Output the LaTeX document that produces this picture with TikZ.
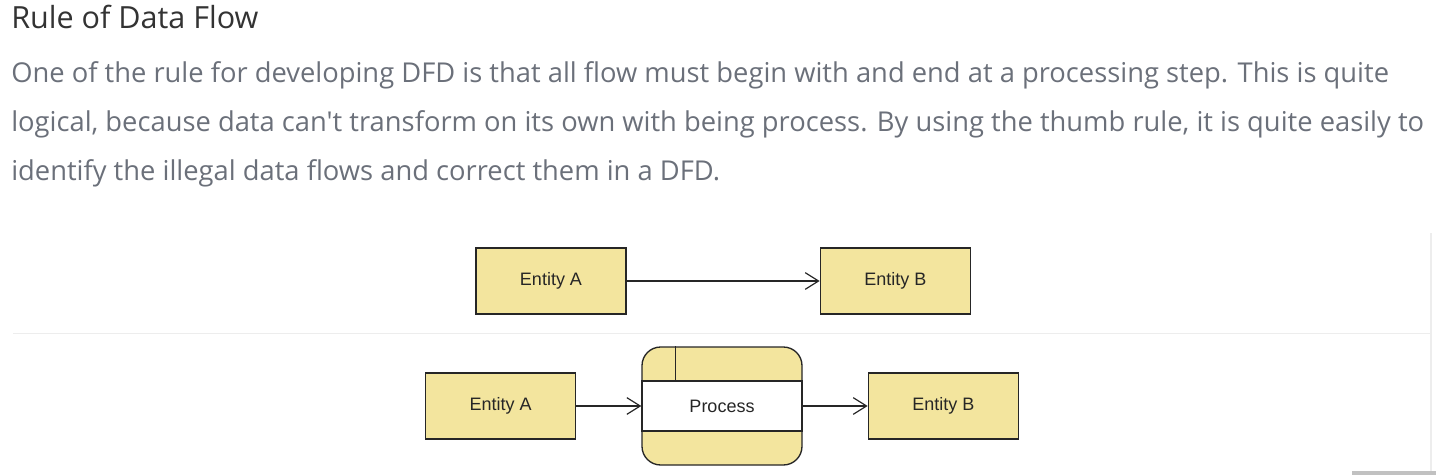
\documentclass[tikz,border=0pt]{standalone}
\usepackage{fontspec}
\setmainfont{Open Sans}
\newfontfamily\pagefont{Open Sans}
\newfontfamily\boxfont{Liberation Sans}
\usepackage{xcolor}
\usetikzlibrary{arrows.meta,positioning}
\definecolor{dfdyellow}{HTML}{F3E59E}
\definecolor{titlegray}{HTML}{333333}
\definecolor{textgray}{HTML}{6B707A}
\definecolor{rulegray}{HTML}{EDEDED}
\definecolor{bargray}{HTML}{C1C1C1}

\begin{document}
\begin{tikzpicture}[
    x=0.75pt, y=-0.75pt,
    >={Straight Barb[length=10pt, width=12.5pt, line width=0.9pt]},
    entity/.style={rectangle, draw=black!85, line width=1pt, fill=dfdyellow, minimum width=112.5pt, minimum height=49.5pt, font=\boxfont\fontsize{13.5}{15}\selectfont, text=black!85, inner sep=0pt},
    procbox/.style={rectangle, draw=black!85, line width=1pt, fill=dfdyellow, rounded corners=14pt, minimum width=120pt, minimum height=88.5pt, inner sep=0pt},
    procband/.style={rectangle, draw=black!85, line width=1pt, fill=white, minimum width=120pt, minimum height=37.5pt, font=\boxfont\fontsize{13.5}{15}\selectfont, text=black!85, inner sep=0pt},
    flow/.style={->, line width=1pt, draw=black!85},
    bodyline/.style={anchor=base west, inner sep=0pt, text=textgray, font=\pagefont\fontsize{20.5}{24}\selectfont},
]
\useasboundingbox (0,0) rectangle (1440,475);

% Heading and text
\node[anchor=base west, inner sep=0pt, text=titlegray, font=\pagefont\fontsize{22.9}{26}\selectfont] (title) at (11,28) {Rule of Data Flow};
\node[bodyline] (line1) at (11,82) {One of the rule for developing DFD is that all flow must begin with and end at a processing step. This is quite};
\node[bodyline] (line2) at (11,131) {logical, because data can't transform on its own with being process. By using the thumb rule, it is quite easily to};
\node[bodyline] (line3) at (11,180) {identify the illegal data flows and correct them in a DFD.};

% Page rules
\draw[rulegray, line width=1.2pt] (13,333.5) -- (1431,333.5);
\draw[rulegray, line width=1.2pt] (1431,233) -- (1431,475);
\fill[bargray] (1352,471) rectangle (1436,475);

% Illegal flow
\node[entity] (topa) at (551,281) {Entity A};
\node[entity, right=144.75pt of topa] (topb) {Entity B};

% Legal flow
\node[procbox] (proc) at (722,406) {};
\node[procband] (ptext) at (proc.center) {Process};
\draw[black!85, line width=1pt] ([xshift=25.5pt]proc.north west) -- ([xshift=25.5pt]ptext.north west);
\node[entity, left=48.75pt of proc] (bota) {Entity A};
\node[entity, right=48.75pt of proc] (botb) {Entity B};

% Arrows
\draw[flow] (topa.east) -- (topb.west);
\draw[flow] (bota.east) -- (proc.west);
\draw[flow] (proc.east) -- (botb.west);

\end{tikzpicture}
\end{document}
